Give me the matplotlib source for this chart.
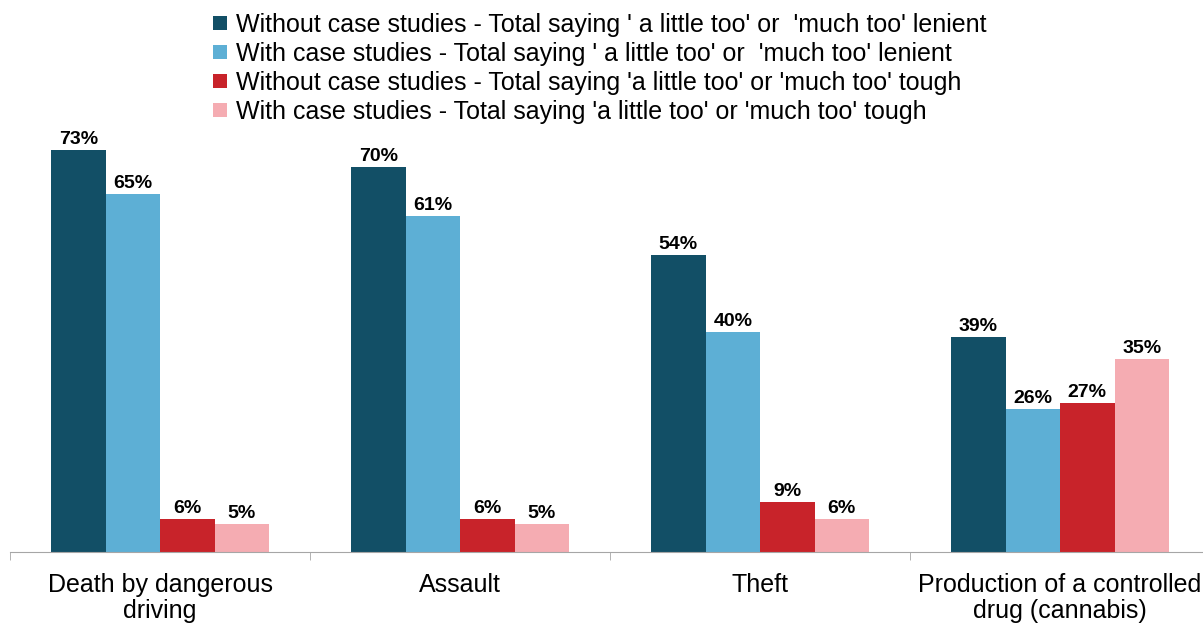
import matplotlib
matplotlib.use("Agg")
import matplotlib.pyplot as plt
import numpy as np

plt.rcParams['font.family'] = ['Liberation Sans', 'DejaVu Sans']

# data
categories = ["Death by dangerous\ndriving", "Assault", "Theft",
              "Production of a controlled\ndrug (cannabis)"]
series_names = [
    "Without case studies - Total saying ' a little too' or  'much too' lenient",
    "With case studies - Total saying ' a little too' or  'much too' lenient",
    "Without case studies - Total saying 'a little too' or 'much too' tough",
    "With case studies - Total saying 'a little too' or 'much too' tough",
]
without_lenient = [73, 70, 54, 39]
with_lenient = [65, 61, 40, 26]
without_tough = [6, 6, 9, 27]
with_tough = [5, 5, 6, 35]

colors = ['#124F66', '#5DAFD5', '#C8232A', '#F5ACB2']

W, H = 1203, 623
fig = plt.figure(figsize=(W / 100, H / 100), dpi=100)
base_px = 551.7
px_per_pct = 5.5
ymax = 80
ax = fig.add_axes([10 / W, (H - base_px) / H, 1200 / W, ymax * px_per_pct / H])

x = np.arange(len(categories))
bw = 54.5 / 300
all_series = [without_lenient, with_lenient, without_tough, with_tough]
for k, vals in enumerate(all_series):
    pos = x + (k - 1.5) * bw
    bars = ax.bar(pos, vals, width=bw, color=colors[k], label=series_names[k])
    for b, v in zip(bars, vals):
        ax.annotate(f"{v}%", (b.get_x() + b.get_width() / 2, v),
                    xytext=(0, 1.5), textcoords='offset points',
                    ha='center', va='bottom', fontsize=14, fontweight='bold')

ax.set_xlim(-0.5, 3.5)
ax.set_ylim(0, ymax)
for s in ['top', 'right', 'left']:
    ax.spines[s].set_visible(False)
ax.spines['bottom'].set_color('#A6A6A6')
ax.set_yticks([])
ax.set_xticks(x)
ax.set_xticklabels(categories, fontsize=18, linespacing=1.15)
ax.tick_params(axis='x', which='major', length=0, pad=15)
ax.set_xticks(np.arange(-0.5, 4, 1), minor=True)
ax.tick_params(axis='x', which='minor', length=6, color='#A6A6A6', direction='out')

fig.legend(loc='upper left', bbox_to_anchor=(213 / W, 1 - 13 / H), frameon=False,
           fontsize=18, handlelength=0.55, handleheight=0.5, handletextpad=0.35,
           labelspacing=0.2, borderaxespad=0, borderpad=0)

fig.savefig("out.png", dpi=100)
